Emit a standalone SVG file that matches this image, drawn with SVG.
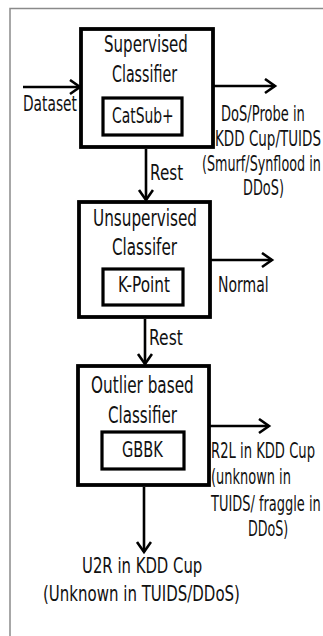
<svg xmlns="http://www.w3.org/2000/svg" width="323" height="636" viewBox="0 0 323 636">
<defs>
<style>
.frame{stroke:#8a8a8a;stroke-width:1.5;fill:none}
.box{fill:#fff;stroke:#000;stroke-width:3.8}
.inner{fill:#fff;stroke:#000;stroke-width:3.2}
.edge{stroke:#000;stroke-width:2.6;fill:none}
text{font-family:"DejaVu Sans","Liberation Sans",sans-serif;font-size:21px;fill:#111}
text.t{font-size:23px}
</style>
<marker id="ah" markerUnits="userSpaceOnUse" markerWidth="16" markerHeight="18" refX="11" refY="8" orient="auto" viewBox="0 0 16 18">
<path d="M1,1 L11,8 L1,15" fill="none" stroke="#000" stroke-width="2.6"/>
</marker>
</defs>
<rect width="323" height="636" fill="#fff"/>
<path class="frame" d="M10,636 L10,8.5 L323,8.5"/>
<g id="connectors">
<line class="edge" x1="23" y1="87" x2="80" y2="87" marker-end="url(#ah)"/>
<line class="edge" x1="214" y1="86" x2="275" y2="86" marker-end="url(#ah)"/>
<line class="edge" x1="146" y1="149" x2="146" y2="200" marker-end="url(#ah)"/>
<line class="edge" x1="211" y1="260" x2="272" y2="260" marker-end="url(#ah)"/>
<line class="edge" x1="145" y1="319" x2="145" y2="364" marker-end="url(#ah)"/>
<line class="edge" x1="210" y1="426" x2="269" y2="426" marker-end="url(#ah)"/>
<line class="edge" x1="144" y1="487" x2="144" y2="552" marker-end="url(#ah)"/>
<text transform="translate(23,111) scale(0.65,1)" textLength="83" lengthAdjust="spacingAndGlyphs">Dataset</text>
<text transform="translate(150,180) scale(0.65,1)" textLength="51" lengthAdjust="spacingAndGlyphs">Rest</text>
<text transform="translate(149,345) scale(0.65,1)" textLength="52" lengthAdjust="spacingAndGlyphs">Rest</text>
</g>
<g id="supervised">
<rect class="box" x="81" y="29" width="132" height="118"/>
<text class="t" transform="translate(104,52) scale(0.65,1)" textLength="129" lengthAdjust="spacingAndGlyphs">Supervised</text>
<text class="t" transform="translate(112,82) scale(0.65,1)" textLength="100" lengthAdjust="spacingAndGlyphs">Classifier</text>
<rect class="inner" x="103" y="98" width="79" height="37"/>
<text transform="translate(112,123) scale(0.65,1)" textLength="95" lengthAdjust="spacingAndGlyphs">CatSub+</text>
</g>
<g id="out-dos">
<text transform="translate(221,120.5) scale(0.65,1)" textLength="129" lengthAdjust="spacingAndGlyphs">DoS/Probe in</text>
<text transform="translate(215,146) scale(0.65,1)" textLength="163" lengthAdjust="spacingAndGlyphs">KDD Cup/TUIDS</text>
<text transform="translate(202,171) scale(0.6,1)" textLength="198" lengthAdjust="spacingAndGlyphs">(Smurf/Synflood in</text>
<text transform="translate(243,195) scale(0.65,1)" textLength="63" lengthAdjust="spacingAndGlyphs">DDoS)</text>
</g>
<g id="unsupervised">
<rect class="box" x="79" y="202" width="131" height="115"/>
<text class="t" transform="translate(93,226) scale(0.65,1)" textLength="160" lengthAdjust="spacingAndGlyphs">Unsupervised</text>
<text class="t" transform="translate(112,255) scale(0.65,1)" textLength="100" lengthAdjust="spacingAndGlyphs">Classifer</text>
<rect class="inner" x="103" y="269" width="80" height="36"/>
<text transform="translate(118,292) scale(0.65,1)" textLength="80" lengthAdjust="spacingAndGlyphs">K-Point</text>
</g>
<g id="out-normal">
<text transform="translate(218,292) scale(0.65,1)" textLength="78" lengthAdjust="spacingAndGlyphs">Normal</text>
</g>
<g id="outlier">
<rect class="box" x="78" y="366" width="131" height="119"/>
<text class="t" transform="translate(91,393) scale(0.65,1)" textLength="158" lengthAdjust="spacingAndGlyphs">Outlier based</text>
<text class="t" transform="translate(108,423) scale(0.65,1)" textLength="106" lengthAdjust="spacingAndGlyphs">Classifier</text>
<rect class="inner" x="102" y="432" width="82" height="37"/>
<text transform="translate(122,457) scale(0.65,1)" textLength="63" lengthAdjust="spacingAndGlyphs">GBBK</text>
</g>
<g id="out-r2l">
<text transform="translate(211,458) scale(0.65,1)" textLength="160" lengthAdjust="spacingAndGlyphs">R2L in KDD Cup</text>
<text transform="translate(211,484) scale(0.65,1)" textLength="123" lengthAdjust="spacingAndGlyphs">(unknown in</text>
<text transform="translate(211,511) scale(0.6,1)" textLength="183" lengthAdjust="spacingAndGlyphs">TUIDS/ fraggle in</text>
<text transform="translate(248,536) scale(0.65,1)" textLength="62" lengthAdjust="spacingAndGlyphs">DDoS)</text>
</g>
<g id="out-u2r">
<text transform="translate(82,573) scale(0.65,1)" textLength="185" lengthAdjust="spacingAndGlyphs">U2R in KDD Cup</text>
<text transform="translate(43,601) scale(0.65,1)" textLength="303" lengthAdjust="spacingAndGlyphs">(Unknown in TUIDS/DDoS)</text>
</g>
</svg>
